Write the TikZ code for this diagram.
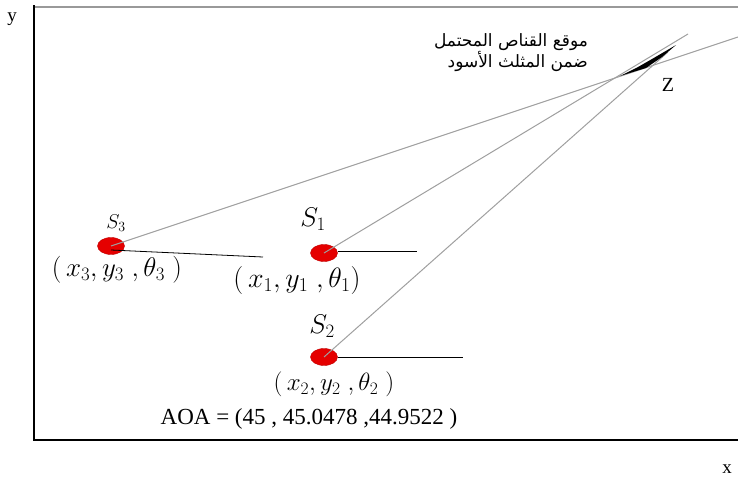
\RequirePackage{fix-cm}
\documentclass[tikz,border=0pt]{standalone}
\usepackage{fontspec}
\setmainfont{Liberation Serif}
\newfontfamily\arabicfont[Script=Arabic]{DejaVu Sans}
\TeXXeTstate=1
\usetikzlibrary{positioning, shapes.geometric}

\begin{document}
\begin{tikzpicture}[x=1pt, y=-1pt,
  sensor/.style={ellipse, fill=red!90!black, draw=red!75!black, minimum width=27pt,
              minimum height=17pt, inner sep=0pt},
  ray/.style={gray!75, line width=1pt},
  bearing/.style={black, line width=0.8pt},
  lbl/.style={inner sep=0pt, font=\fontsize{22}{24}\selectfont},
  frame/.style={black, line width=2.5pt}
]
\useasboundingbox (0,0) rectangle (738,479);

\draw[gray!80, line width=1.5pt] (35,7) -- (738,7);
\draw[frame] (34,5) -- (34,440) -- (738,440);
\node[font=\fontsize{19}{21}\selectfont] (ylab) at (12,19) {y};
\node[font=\fontsize{19}{21}\selectfont] (xlab) at (727,469) {x};

\node[sensor] (s3) at (111,246) {};
\node[sensor] (s1) at (324,253) {};
\node[sensor] (s2) at (324,357) {};

\coordinate (r3) at (738,37);
\coordinate (r1) at (688,34);
\coordinate (r2) at (668,52);
\coordinate (h3) at (263,257);
\coordinate (h1) at (417,251);
\coordinate (h2) at (463,357);

\draw[ray] (s3.center) -- (r3);
\draw[ray] (s1.center) -- (r1);
\draw[ray] (s2.center) -- (r2);
\fill[black] (620,76) -- (638,67) -- (652,59) -- (676,45) -- (662,57) -- (646,68) -- cycle;

\draw[bearing] ([yshift=-4pt]s3.center) -- (h3);
\draw[bearing] ([yshift=2pt]s1.east) -- (h1);
\draw[bearing] (s2.east) -- (h2);

\node[lbl, font=\fontsize{20}{22}\selectfont] (n3) at (116,223) {$S_3$};
\node[lbl, font=\fontsize{27}{29}\selectfont] (n1) at (313,219) {$S_1$};
\node[lbl, font=\fontsize{27}{29}\selectfont] (n2) at (322,326) {$S_2$};

\node[lbl, font=\fontsize{27}{29}\selectfont] (p3) at (117,270) {$(\,x_3,y_3\;,\theta_3\;)$};
\node[lbl, font=\fontsize{28}{30}\selectfont] (p1) at (297,280) {$(\,x_1,y_1\;,\theta_1)$};
\node[lbl, font=\fontsize{25}{27}\selectfont] (p2) at (334,384) {$(\,x_2,y_2\;,\theta_2\;)$};

\node[lbl, font=\fontsize{23}{25}\selectfont] (aoa) at (309,419) {AOA = (45 , 45.0478 ,44.9522 )};

\node[font=\fontsize{20}{22}\selectfont] (zlab) at (668,85) {Z};
\node[inner sep=0pt, align=right, font=\arabicfont\fontsize{17}{21}\selectfont] (sniper) at (511,53)
  {\beginR موقع القناص المحتمل\endR\\ \beginR ضمن المثلث الأسود\endR};
\end{tikzpicture}
\end{document}
